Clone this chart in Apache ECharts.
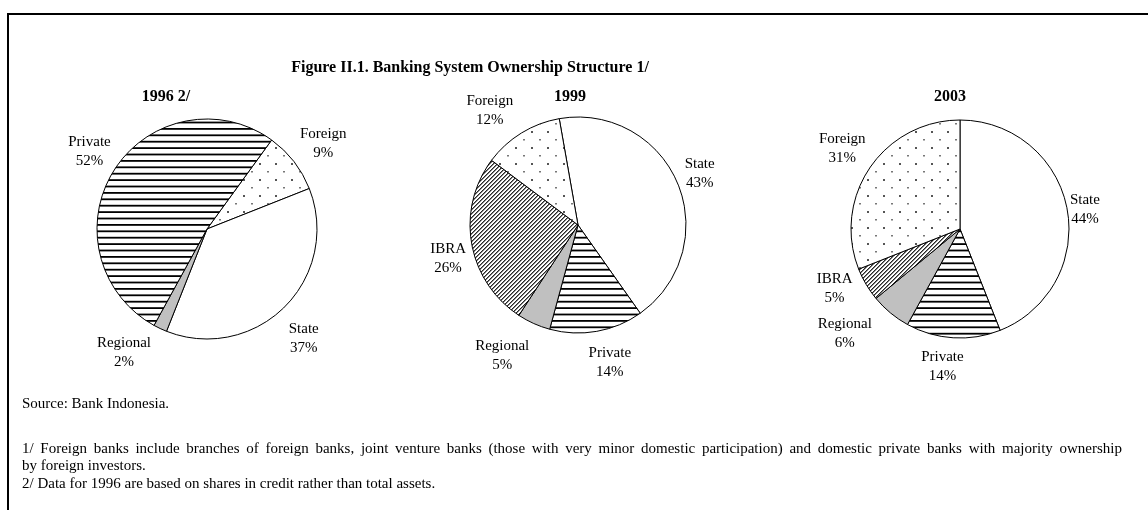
<!DOCTYPE html>
<html>
<head>
<meta charset="utf-8">
<script src="https://cdn.jsdelivr.net/npm/echarts@6/dist/echarts.min.js"></script>
<style>
  html, body { margin: 0; padding: 0; background: #ffffff; }
  #chart { width: 1148px; height: 510px; }
</style>
</head>
<body>
<div id="chart"></div>
<script>
// Ownership shares of the banking system, percent
const chartTitle = 'Figure II.1. Banking System Ownership Structure 1/';
const pieTitles = ['1996 2/', '1999', '2003'];

const categories1996 = ['Foreign', 'State', 'Regional', 'Private'];
const values1996 = [9, 37, 2, 52];

const categories1999 = ['State', 'Private', 'Regional', 'IBRA', 'Foreign'];
const values1999 = [43, 14, 5, 26, 12];

const categories2003 = ['State', 'Private', 'Regional', 'IBRA', 'Foreign'];
const values2003 = [44, 14, 6, 5, 31];

const sourceNote = 'Source: Bank Indonesia.';
const footnoteLines = [
  '1/ Foreign banks include branches of foreign banks, joint venture banks (those with very minor domestic participation) and domestic private banks with majority ownership',
  'by foreign investors.',
  '2/ Data for 1996 are based on shares in credit rather than total assets.'
];

const SERIF = '"Liberation Serif", "Times New Roman", Times, serif';
const NOTE_SIZE = 15;

// ---- fill patterns -------------------------------------------------------
function makeCanvas(w, h) {
  const c = document.createElement('canvas');
  c.width = w; c.height = h;
  return c;
}

// horizontal black rules
function stripePattern() {
  const c = makeCanvas(8, 32);
  const g = c.getContext('2d');
  g.fillStyle = '#ffffff'; g.fillRect(0, 0, 8, 32);
  g.fillStyle = '#000000';
  for (let k = 0; k < 5; k++) g.fillRect(0, k * 6.4, 8, 1.8);
  return c;
}

// sparse staggered grey dots
function dotPattern() {
  const c = makeCanvas(16, 16);
  const g = c.getContext('2d');
  g.fillStyle = '#ffffff'; g.fillRect(0, 0, 16, 16);
  g.fillStyle = '#555555'; g.fillRect(3, 3, 2, 2);
  g.fillStyle = '#777777'; g.fillRect(11, 11, 2, 1.5);
  return c;
}

// dense "/" hatching
function hatchPattern() {
  const c = makeCanvas(8, 8);
  const g = c.getContext('2d');
  const img = g.createImageData(8, 8);
  for (let y = 0; y < 8; y++) {
    for (let x = 0; x < 8; x++) {
      const m = (x + y) % 4;
      const v = m === 0 ? 40 : (m === 1 ? 130 : 255);
      const i = (y * 8 + x) * 4;
      img.data[i] = img.data[i + 1] = img.data[i + 2] = v;
      img.data[i + 3] = 255;
    }
  }
  g.putImageData(img, 0, 0);
  return c;
}

const fills = {
  State: '#ffffff',
  Private: { image: stripePattern(), repeat: 'repeat' },
  Foreign: { image: dotPattern(), repeat: 'repeat' },
  IBRA: { image: hatchPattern(), repeat: 'repeat' },
  Regional: '#c0c0c0'
};

// ---- label placement: just outside the rim, along each slice's mid-angle ----
const LABEL_GAP = 7;
// small hand adjustments [dx, dy] per pie, keyed by slice name
const labelNudge = [
  { Foreign: [0, 5], State: [-3, 10], Regional: [-21, -8], Private: [5, 0] },
  { Foreign: [-13, 8], State: [-4, 1], IBRA: [4, 10], Regional: [-17, 0], Private: [8, 2] },
  { Foreign: [3, 2], State: [-7, 6], IBRA: [-4, -12], Regional: [-21, -9], Private: [-9, 2] }
];
const pieNames = [categories1996, categories1999, categories2003];

function placeLabel(params) {
  const pts = params.labelLinePoints;
  if (!pts || pts.length < 2) return {};
  const p0 = pts[0], p1 = pts[1];
  let dx = p1[0] - p0[0], dy = p1[1] - p0[1];
  const len = Math.hypot(dx, dy) || 1;
  dx /= len; dy /= len;
  const w = params.labelRect.width, h = params.labelRect.height;
  const d = LABEL_GAP + Math.abs(dx) * w / 2 + Math.abs(dy) * h / 2;
  const name = pieNames[params.seriesIndex][params.dataIndex];
  const n = labelNudge[params.seriesIndex][name] || [0, 0];
  return { x: p0[0] + dx * d + n[0], y: p0[1] + dy * d + n[1], align: 'center', verticalAlign: 'middle' };
}

function pieSeries(names, values, center, radius, startAngle) {
  return {
    type: 'pie',
    center: center,
    radius: radius,
    startAngle: startAngle,
    clockwise: true,
    avoidLabelOverlap: false,
    silent: true,
    emphasis: { disabled: true },
    itemStyle: { borderColor: '#000000', borderWidth: 1 },
    label: {
      show: true,
      position: 'outside',
      formatter: '{b}\n{c}%',
      color: '#000000',
      fontFamily: SERIF,
      fontSize: 15,
      lineHeight: 19
    },
    labelLine: { show: true, length: 10, length2: 0, lineStyle: { opacity: 0 } },
    labelLayout: placeLabel,
    data: names.map((n, i) => ({ name: n, value: values[i], itemStyle: { color: fills[n] } }))
  };
}

// ---- justified first footnote line (word by word) ----
function justifiedLine(text, left, right, y, size) {
  const ctx = makeCanvas(10, 10).getContext('2d');
  ctx.font = size + 'px ' + SERIF;
  const words = text.split(' ');
  const widths = words.map(w => ctx.measureText(w).width);
  const total = widths.reduce((a, b) => a + b, 0);
  const gap = (right - left - total) / (words.length - 1);
  const out = [];
  let x = left;
  words.forEach((w, i) => {
    out.push({ type: 'text', x: x, y: y, silent: true,
      style: { text: w, fill: '#000000', fontFamily: SERIF, fontSize: size, textVerticalAlign: 'middle' } });
    x += widths[i] + gap;
  });
  return out;
}

const chart = echarts.init(document.getElementById('chart'), null, { renderer: 'canvas' });

const textStyle = (opts) => Object.assign({ fill: '#000000', fontFamily: SERIF }, opts);
const boldCentered = (text, x, y) => ({
  type: 'text', x: x, y: y, silent: true,
  style: textStyle({ text: text, fontSize: 16, fontWeight: 'bold', textAlign: 'center', textVerticalAlign: 'middle' })
});
const note = (text, y) => ({
  type: 'text', x: 22, y: y, silent: true,
  style: textStyle({ text: text, fontSize: NOTE_SIZE, textVerticalAlign: 'middle' })
});

chart.setOption({
  animation: false,
  backgroundColor: '#ffffff',
  series: [
    pieSeries(categories1996, values1996, [207, 229], 110, 54),
    pieSeries(categories1999, values1999, [578, 225], 108, 100),
    pieSeries(categories2003, values2003, [960, 229], 109, 90)
  ],
  graphic: [
    { type: 'polyline', silent: true,
      shape: { points: [[8, 510], [8, 14], [1148, 14]] },
      style: { stroke: '#000000', lineWidth: 2, fill: null } },
    boldCentered(chartTitle, 470, 68),
    boldCentered(pieTitles[0], 166, 97),
    boldCentered(pieTitles[1], 570, 97),
    boldCentered(pieTitles[2], 950, 97),
    note(sourceNote, 404),
    ...justifiedLine(footnoteLines[0], 22, 1122, 449, NOTE_SIZE),
    note(footnoteLines[1], 466),
    note(footnoteLines[2], 484)
  ]
});
</script>
</body>
</html>
